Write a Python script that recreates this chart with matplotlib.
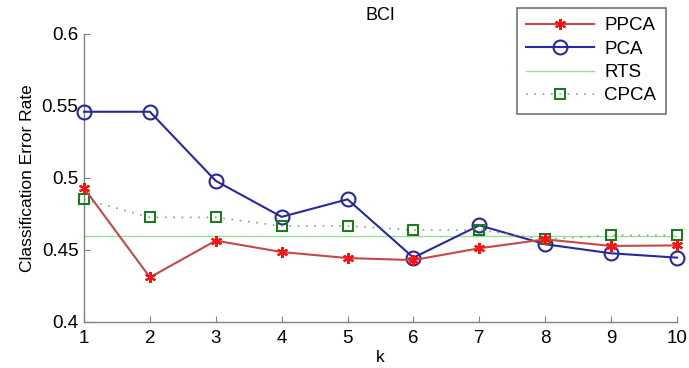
import matplotlib
matplotlib.use("Agg")
import matplotlib.pyplot as plt

plt.rcParams['font.family'] = ['Liberation Sans', 'DejaVu Sans']

k = [1, 2, 3, 4, 5, 6, 7, 8, 9, 10]
ppca = [0.493, 0.431, 0.4565, 0.4486, 0.4444, 0.443, 0.4512, 0.4574, 0.4528, 0.4532]
pca = [0.546, 0.546, 0.498, 0.473, 0.4852, 0.4447, 0.4671, 0.454, 0.4477, 0.4447]
rts = [0.460] * 10
cpca = [0.4852, 0.4727, 0.4727, 0.4667, 0.4667, 0.4639, 0.4639, 0.4574, 0.4602, 0.4602]

fig = plt.figure(figsize=(6.89, 3.68), dpi=100)
ax = fig.add_axes([84/689, 1 - 322/368, (677-84)/689, (322-34)/368])

ax.plot(k, ppca, color='#c84848', lw=1.5, marker=(6, 2, 0), ms=8, mec='#ff1010', mew=1.5,
        label='PPCA', zorder=4, clip_on=False)
ax.plot(k, pca, color='#2828a0', lw=1.5, marker='o', ms=10, mfc='none', mec='#2828a0', mew=1.5,
        label='PCA', zorder=3, clip_on=False)
ax.plot(k, rts, color='#98e098', lw=1.0, label='RTS', zorder=2)
ax.plot(k, cpca, color='#8aa08a', lw=1.2, ls=(0, (1, 4)), marker='s', ms=7, mfc='none', mec='#1e7a1e',
        mew=1.5, label='CPCA', zorder=3, clip_on=False)

ax.set_xlim(1, 10)
ax.set_ylim(0.4, 0.6)
ax.set_xticks(k)
ax.set_yticks([0.4, 0.45, 0.5, 0.55, 0.6])
ax.set_yticklabels(['0.4', '0.45', '0.5', '0.55', '0.6'])
for s in ['top', 'right']:
    ax.spines[s].set_visible(False)
for s in ['left', 'bottom']:
    ax.spines[s].set_color('#808080')
    ax.spines[s].set_linewidth(1.0)
ax.tick_params(direction='in', length=4, color='#808080', labelsize=13.5)
ax.tick_params(axis='x', pad=6)
ax.tick_params(axis='y', pad=4)
ax.set_xlabel('k', fontsize=12.5, labelpad=2)
ax.set_ylabel('Classification Error Rate', fontsize=12.5, labelpad=5)
ax.set_title('BCI', fontsize=13, pad=10)

leg = ax.legend(loc='upper left', bbox_to_anchor=(517/689, 1 - 8/368), bbox_transform=fig.transFigure,
                fontsize=13.5, frameon=True, fancybox=False, edgecolor='#505050', handlelength=3.6,
                borderpad=0.5, labelspacing=0.33, handletextpad=0.55, borderaxespad=0)
leg.get_frame().set_linewidth(1.2)

fig.savefig('out.png', dpi=100)
